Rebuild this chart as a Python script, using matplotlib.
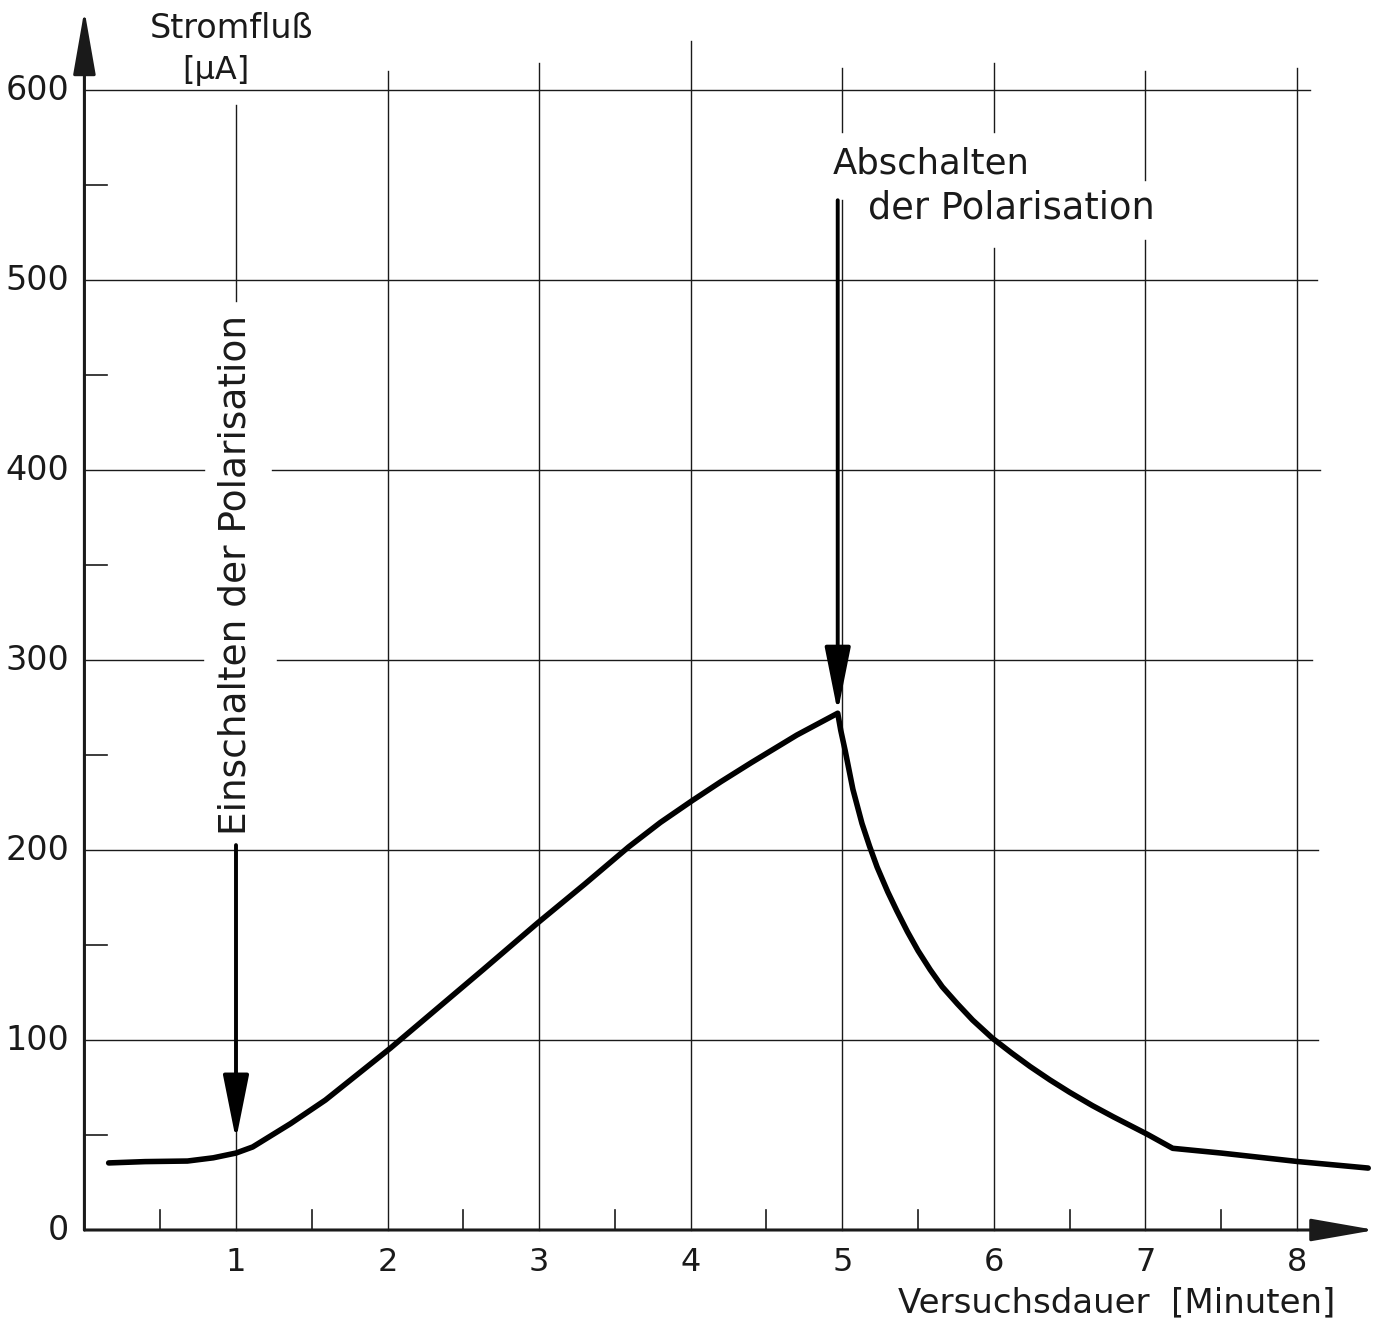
import matplotlib
matplotlib.use('Agg')
import matplotlib.pyplot as plt

minuten = [0.16, 0.4, 0.68, 0.85, 1.0, 1.11, 1.36, 1.59, 2.02, 2.63, 2.99, 3.3, 3.59,
           3.8, 4.01, 4.2, 4.4, 4.7, 4.97, 4.99, 5.02, 5.07, 5.13, 5.18, 5.23, 5.30,
           5.36, 5.43, 5.50, 5.58, 5.66, 5.76, 5.86, 5.99, 6.12, 6.24, 6.37, 6.50,
           6.65, 6.79, 7.01, 7.18, 7.5, 8.01, 8.47]
strom = [35.3, 36, 36.3, 38, 40.5, 43.7, 56, 68.4, 95.8, 137, 161.6, 182, 201.6,
         214.5, 226, 236, 246, 260.5, 272, 263, 252, 232, 214, 202, 191, 178,
         168, 157, 147, 137, 128, 119, 110.5, 101, 93, 86, 79, 72.5,
         65.5, 59.5, 50.5, 43, 40.5, 36, 32.6]

x_ticks = [1, 2, 3, 4, 5, 6, 7, 8]
y_ticks = [0, 100, 200, 300, 400, 500, 600]
t_ein = 1.0
t_aus = 4.97

ink = '#1a1a1a'
font = 'DejaVu Sans'

fig = plt.figure(figsize=(13.82, 13.25), dpi=100)
ax = fig.add_axes([0, 0, 1, 1])
ax.set_xlim(-0.557, 8.561)
ax.set_ylim(-50, 647.4)
ax.axis('off')

# senkrechte Gitterlinien (mit Luecken fuer die Beschriftung)
v_segments = {
    1: [(0, 202), (489, 592)],
    2: [(0, 610)],
    3: [(0, 614)],
    4: [(0, 626)],
    5: [(0, 542), (578, 611.6)],
    6: [(0, 517), (578, 614)],
    7: [(0, 521), (552.6, 610)],
    8: [(0, 611.6)],
}
for xv, segs in v_segments.items():
    for y0, y1 in segs:
        ax.plot([xv, xv], [y0, y1], color=ink, lw=1.0)

# waagerechte Gitterlinien
h_segments = {
    100: [(0, 8.14)],
    200: [(0, 8.14)],
    300: [(0, 0.78), (1.27, 8.1)],
    400: [(0, 0.79), (1.24, 8.15)],
    500: [(0, 8.13)],
    600: [(0, 8.086)],
}
for yv, segs in h_segments.items():
    for x0, x1 in segs:
        ax.plot([x0, x1], [yv, yv], color=ink, lw=1.0)

# Zwischenstriche
for yv in range(50, 600, 100):
    ax.plot([0, 0.15], [yv, yv], color=ink, lw=1.2)
for xv in [0.5, 1.5, 2.5, 3.5, 4.5, 5.5, 6.5, 7.5]:
    ax.plot([xv, xv], [0, 10.5], color=ink, lw=1.2)

# Achsen mit Pfeilen
arrow_axis = dict(arrowstyle='-|>,head_length=2.0,head_width=0.35', color=ink,
                  lw=2.2, mutation_scale=20, shrinkA=0, shrinkB=0)
ax.annotate('', xy=(0, 642), xytext=(0, 0), arrowprops=arrow_axis)
ax.annotate('', xy=(8.516, 0), xytext=(0, 0), arrowprops=arrow_axis)

# Messkurve
ax.plot(minuten, strom, color='black', lw=4.0, solid_capstyle='round',
        solid_joinstyle='round', zorder=5)

# Achsenbeschriftung
for v in y_ticks:
    ax.text(-0.1, v, str(v), ha='right', va='center', fontsize=24,
            family=font, color=ink)
for v in x_ticks:
    ax.text(v, -17, str(v), ha='center', va='center', fontsize=23,
            family=font, color=ink)

ax.text(0.97, 632.6, 'Stromfluß', ha='center', va='center', fontsize=24,
        family=font, color=ink)
ax.text(0.87, 610.5, '[µA]', ha='center', va='center', fontsize=23,
        family=font, color=ink)
ax.text(6.81, -38.4, 'Versuchsdauer  [Minuten]', ha='center', va='center',
        fontsize=24.5, family=font, color=ink)

# Ein- und Abschalten der Polarisation
arrow_mark = dict(arrowstyle='-|>,head_length=2.0,head_width=0.4', color='black',
                  lw=2.8, mutation_scale=20, shrinkA=0, shrinkB=0)
ax.annotate('', xy=(t_ein, 47.4), xytext=(t_ein, 202.6), arrowprops=arrow_mark)
ax.text(t_ein, 344.7, 'Einschalten der Polarisation', rotation=90, ha='center',
        va='center', fontsize=27, family=font, color=ink)

ax.annotate('', xy=(t_aus, 272.6), xytext=(t_aus, 542), arrowprops=arrow_mark)
ax.text(4.94, 561.6, 'Abschalten', ha='left', va='center', fontsize=25.5,
        family=font, color=ink)
ax.text(5.17, 537.9, 'der Polarisation', ha='left', va='center', fontsize=26.5,
        family=font, color=ink)

fig.savefig('out.png', dpi=100, facecolor='white')
